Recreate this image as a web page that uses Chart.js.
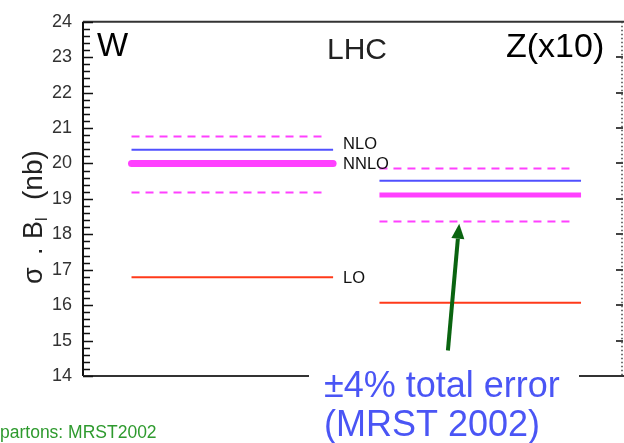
<!DOCTYPE html>
<html>
<head>
<meta charset="utf-8">
<script src="https://cdn.jsdelivr.net/npm/chart.js@4/dist/chart.umd.min.js"></script>
<style>
  html, body { margin: 0; padding: 0; background: #ffffff; }
  #wrap { width: 624px; height: 443px; position: relative; }
</style>
</head>
<body>
<div id="wrap"><canvas id="c" width="624" height="443"></canvas></div>
<script>
// Cross sections sigma . B_l (nb) at the LHC, W and Z (Z scaled by 10)
const processes = ['W', 'Z(x10)'];
const loXsec    = [16.79, 16.07];
const nloXsec   = [20.39, 19.51];
const nnloXsec  = [20.00, 19.11];
const nnloHigh  = [20.76, 19.86];   // upper edge of the total error band
const nnloLow   = [19.18, 18.36];   // lower edge of the total error band
const yTickValues = [14, 15, 16, 17, 18, 19, 20, 21, 22, 23, 24];
const orderLabels = ['NLO', 'NNLO', 'LO'];

// horizontal extent of each process block on a 0..10 x scale
const blockFrom = [0.90, 5.50];
const blockTo   = [4.64, 9.24];
const bandTo    = [4.53, 9.11];

const MAGENTA = '#ff40ff';
const BLUE = '#5050ff';
const RED = '#ff3a1a';

function seg(x0, x1, y) { return [{ x: x0, y: y }, { x: x1, y: y }]; }

const datasets = [];
processes.forEach((p, i) => {
  datasets.push({ label: p + ' NNLO high', data: seg(blockFrom[i], bandTo[i], nnloHigh[i]),
    borderColor: MAGENTA, borderWidth: 2, borderDash: [8, 6] });
  datasets.push({ label: p + ' NNLO low', data: seg(blockFrom[i], bandTo[i], nnloLow[i]),
    borderColor: MAGENTA, borderWidth: 2, borderDash: [8, 6] });
  datasets.push({ label: p + ' NLO', data: seg(blockFrom[i], blockTo[i], nloXsec[i]),
    borderColor: BLUE, borderWidth: 2 });
  datasets.push({ label: p + ' NNLO', data: seg(blockFrom[i], blockTo[i], nnloXsec[i]),
    borderColor: MAGENTA, borderWidth: i === 0 ? 7 : 5, borderCapStyle: i === 0 ? 'round' : 'butt' });
  datasets.push({ label: p + ' LO', data: seg(blockFrom[i], blockTo[i], loXsec[i]),
    borderColor: RED, borderWidth: 2 });
});
datasets.forEach(d => { d.showLine = true; d.pointRadius = 0; d.fill = false; d.tension = 0; });

const FONT = '"Liberation Sans", Arial, sans-serif';

const decorations = {
  id: 'decorations',
  afterDraw(chart) {
    const ctx = chart.ctx;
    const ca = chart.chartArea;
    const ys = chart.scales.y;
    const xs = chart.scales.x;
    ctx.save();

    // frame: left axis, top and bottom lines
    ctx.strokeStyle = '#111';
    ctx.lineWidth = 2;
    ctx.beginPath();
    ctx.moveTo(ca.left, ca.top); ctx.lineTo(ca.left, ca.bottom);
    ctx.stroke();
    ctx.strokeStyle = '#333';
    ctx.beginPath();
    ctx.moveTo(ca.left, ca.top); ctx.lineTo(624, ca.top);
    ctx.moveTo(ca.left, ca.bottom); ctx.lineTo(624, ca.bottom);
    ctx.stroke();

    // inward ticks on the left axis: majors at integers, minors every 0.2
    ctx.strokeStyle = '#111';
    ctx.lineWidth = 1.6;
    ctx.beginPath();
    for (let k = 0; k <= 50; k++) {
      const v = ys.min + k * 0.2;
      const py = Math.round(ys.getPixelForValue(v)) + 0.5;
      const len = (k % 5 === 0) ? 10 : 7;
      ctx.moveTo(ca.left, py); ctx.lineTo(ca.left + len, py);
    }
    ctx.stroke();

    // dotted right axis with short major ticks
    ctx.strokeStyle = '#444';
    ctx.lineWidth = 1.5;
    ctx.setLineDash([1.5, 2.5]);
    ctx.beginPath();
    ctx.moveTo(ca.right, ca.top); ctx.lineTo(ca.right, ca.bottom);
    ctx.stroke();
    ctx.setLineDash([]);
    ctx.lineWidth = 2;
    ctx.beginPath();
    yTickValues.forEach(v => {
      if (v === ys.min || v === ys.max) return;
      const py = Math.round(ys.getPixelForValue(v));
      ctx.moveTo(ca.right - 6, py); ctx.lineTo(ca.right + 1, py);
    });
    ctx.stroke();

    // panel titles
    ctx.fillStyle = '#000';
    ctx.textBaseline = 'alphabetic';
    ctx.textAlign = 'left';
    ctx.font = '33px ' + FONT;
    ctx.fillText(processes[0], 97, 56);
    ctx.font = '30px ' + FONT;
    ctx.fillStyle = '#222';
    ctx.fillText('LHC', 327, 59);
    ctx.fillStyle = '#000';
    ctx.font = '34px ' + FONT;
    ctx.fillText(processes[1], 506, 57);

    // order labels beside the W lines
    ctx.font = '16.5px ' + FONT;
    ctx.fillStyle = '#111';
    ctx.textBaseline = 'middle';
    const lx = xs.getPixelForValue(blockTo[0]) + 10;
    ctx.fillText(orderLabels[0], lx, ys.getPixelForValue((nloXsec[0] + nnloHigh[0]) / 2) + 1);
    ctx.fillText(orderLabels[1], lx, ys.getPixelForValue(nnloXsec[0]) + 1);
    ctx.fillText(orderLabels[2], lx, ys.getPixelForValue(loXsec[0]) + 1);

    // y axis title, rotated: sigma . B_l  (nb)
    ctx.save();
    ctx.translate(42, 284);
    ctx.rotate(-Math.PI / 2);
    ctx.textBaseline = 'alphabetic';
    ctx.fillStyle = '#222';
    ctx.font = '27px ' + FONT;
    ctx.fillText('\u03c3', 0, 0);
    ctx.fillText('.', 29, 0);
    ctx.fillText('B', 45, 0);
    ctx.font = '16px ' + FONT;
    ctx.fillText('l', 63, 5);
    ctx.font = '28px ' + FONT;
    ctx.fillText('(nb)', 84, 0);
    ctx.restore();

    // arrow pointing at the lower edge of the Z error band
    const ax0 = xs.getPixelForValue(6.77), ay0 = ys.getPixelForValue(14.72);
    const ax1 = xs.getPixelForValue(6.98), ay1 = ys.getPixelForValue(18.30);
    const ang = Math.atan2(ay1 - ay0, ax1 - ax0);
    const headLen = 15, headHalf = 6.5;
    const bx = ax1 - headLen * Math.cos(ang), by = ay1 - headLen * Math.sin(ang);
    ctx.strokeStyle = '#0a6410';
    ctx.fillStyle = '#0a6410';
    ctx.lineWidth = 4;
    ctx.lineCap = 'butt';
    ctx.beginPath();
    ctx.moveTo(ax0, ay0); ctx.lineTo(bx, by);
    ctx.stroke();
    ctx.beginPath();
    ctx.moveTo(ax1, ay1);
    ctx.lineTo(bx + headHalf * Math.sin(ang), by - headHalf * Math.cos(ang));
    ctx.lineTo(bx - headHalf * Math.sin(ang), by + headHalf * Math.cos(ang));
    ctx.closePath();
    ctx.fill();

    // error note on a white box over the bottom axis
    ctx.fillStyle = '#ffffff';
    ctx.fillRect(309, 362, 270, 81);
    ctx.fillStyle = '#4a55f5';
    ctx.textBaseline = 'alphabetic';
    ctx.font = '36px ' + FONT;
    ctx.fillText('\u00b14% total error', 324, 397);
    ctx.fillText('(MRST 2002)', 324, 436);

    // PDF set note
    ctx.fillStyle = '#2e9a2e';
    ctx.font = '17.5px ' + FONT;
    ctx.fillText('partons: MRST2002', 0, 438);

    ctx.restore();
  }
};

new Chart(document.getElementById('c'), {
  type: 'scatter',
  data: { datasets: datasets },
  options: {
    responsive: false,
    animation: false,
    events: [],
    layout: { padding: { left: 0, right: 2, top: 17, bottom: 67 } },
    plugins: { legend: { display: false }, tooltip: { enabled: false }, title: { display: false } },
    scales: {
      x: { type: 'linear', min: 0, max: 10, display: false },
      y: {
        type: 'linear', min: 14, max: 24,
        afterFit(scale) { scale.width = 83; },
        afterBuildTicks(scale) { scale.ticks = yTickValues.map(v => ({ value: v })); },
        grid: { display: false, drawTicks: false },
        border: { display: false },
        ticks: { padding: 11, color: '#333', font: { family: FONT, size: 18 } }
      }
    }
  },
  plugins: [decorations]
});
</script>
</body>
</html>
